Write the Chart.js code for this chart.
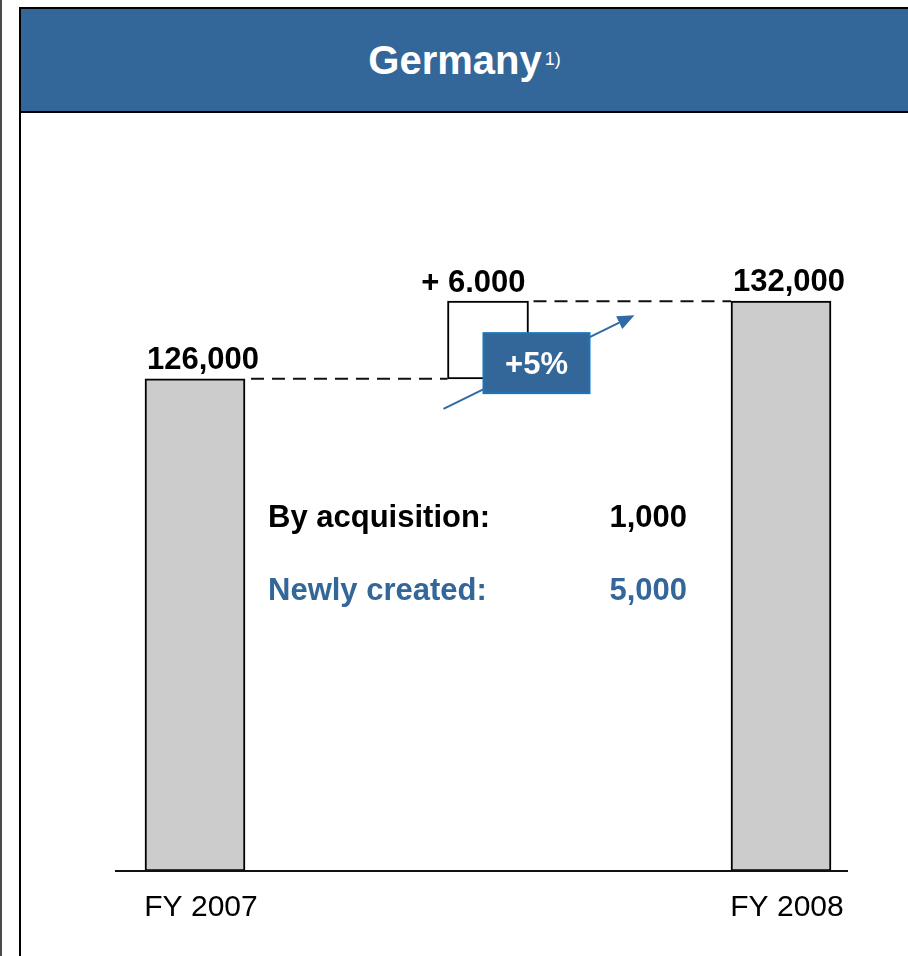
<!DOCTYPE html>
<html>
<head>
<meta charset="utf-8">
<title>Germany headcount FY 2007 – FY 2008</title>
<script src="https://cdn.jsdelivr.net/npm/chart.js@4/dist/chart.umd.min.js"></script>
<style>
  html, body { margin: 0; padding: 0; background: #fff; }
  body { position: relative; width: 908px; height: 956px; overflow: hidden;
         font-family: "Liberation Sans", Arial, sans-serif; }
  #edge { position: absolute; left: 0; top: 0; width: 2px; height: 956px; background: #4a4a4a; }
  #panel { position: absolute; left: 19px; top: 7px; width: 900px; height: 960px;
           border-left: 2px solid #000; border-top: 2px solid #000; }
  #head { position: absolute; left: 21px; top: 9px; width: 887px; height: 102px;
          background: #336699; border-bottom: 2px solid #000; color: #fff;
          text-align: center; line-height: 102px; font-weight: bold; font-size: 40px; }
  #head span { font-size: 18px; font-weight: normal; position: relative; top: -9px; margin-left: 3px; }
  #chart { position: absolute; left: 0; top: 0; }
</style>
</head>
<body>
<div id="edge"></div>
<div id="panel"></div>
<div id="head">Germany<span>1)</span></div>
<canvas id="chart" width="908" height="956"></canvas>
<script>
// Headcount in Germany, start and end of year, plus the change in between
const categories = ['FY 2007', '', 'FY 2008'];
const headcount = [126000, null, 132000];
const change = [null, [126000, 132000], null];
// Where the additional jobs came from
const breakdownLabels = ['By acquisition:', 'Newly created:'];
const breakdownValues = [1000, 5000];
const breakdownColors = ['#000000', '#336699'];

// value axis window (the axis itself is not drawn)
const axisFloor = 88000;
const axisCeil = 150000;

const FONT = '"Liberation Sans", Arial, sans-serif';
const BLUE = '#336699';

function group(v, sep) {
  return String(v).replace(/\B(?=(\d{3})+(?!\d))/g, sep);
}

const annotate = {
  id: 'annotate',
  afterDatasetsDraw(chart) {
    const ctx = chart.ctx;
    const area = chart.chartArea;
    const ys = chart.scales.y;
    const ground = ys.getPixelForValue(axisFloor);
    const bars = chart.getDatasetMeta(0).data;
    const step = chart.getDatasetMeta(1).data[1];
    const b0 = bars[0], b2 = bars[2];
    const L = el => el.x - el.width / 2;
    const R = el => el.x + el.width / 2;
    const lo = ys.getPixelForValue(change[1][0]);
    const hi = ys.getPixelForValue(change[1][1]);

    ctx.save();

    // ground line under the bars
    ctx.strokeStyle = '#111';
    ctx.lineWidth = 2;
    ctx.beginPath();
    ctx.moveTo(L(b0) - 30, ground);
    ctx.lineTo(R(b2) + 17, ground);
    ctx.stroke();

    // dashed connectors between the bars and the change box
    ctx.setLineDash([13, 8]);
    ctx.beginPath();
    ctx.moveTo(R(b0) + 6, lo);
    ctx.lineTo(L(step), lo);
    ctx.moveTo(R(step) + 5, hi);
    ctx.lineTo(L(b2), hi);
    ctx.stroke();
    ctx.setLineDash([]);

    // value labels
    ctx.fillStyle = '#000';
    ctx.font = 'bold 31px ' + FONT;
    ctx.textBaseline = 'alphabetic';
    ctx.textAlign = 'left';
    [0, 2].forEach(i => {
      const el = bars[i];
      ctx.fillText(group(headcount[i], ','), L(el) + 2, ys.getPixelForValue(headcount[i]) - 10);
    });
    const diff = change[1][1] - change[1][0];
    ctx.textAlign = 'right';
    ctx.fillText('+ ' + group(diff, '.'), R(step) - 3, hi - 9);

    // growth arrow
    const x1 = L(step) - 4, y1 = lo + 30;
    const x2 = R(step) + 106, y2 = hi + 14;
    const ang = Math.atan2(y2 - y1, x2 - x1);
    const head = 17, half = 7;
    const hx = x2 - head * Math.cos(ang), hy = y2 - head * Math.sin(ang);
    ctx.strokeStyle = '#2f6aa7';
    ctx.fillStyle = '#2f6aa7';
    ctx.lineWidth = 2;
    ctx.beginPath();
    ctx.moveTo(x1, y1);
    ctx.lineTo(hx, hy);
    ctx.stroke();
    ctx.beginPath();
    ctx.moveTo(x2, y2);
    ctx.lineTo(hx + half * Math.sin(ang), hy - half * Math.cos(ang));
    ctx.lineTo(hx - half * Math.sin(ang), hy + half * Math.cos(ang));
    ctx.closePath();
    ctx.fill();

    // growth badge
    const bw = 106, bh = 60;
    const bx = L(step) + 36, by = hi + 32;
    ctx.fillStyle = BLUE;
    ctx.fillRect(bx, by, bw, bh);
    ctx.strokeStyle = '#1b75bc';
    ctx.lineWidth = 2;
    ctx.strokeRect(bx, by, bw, bh);
    ctx.fillStyle = '#fff';
    ctx.font = 'bold 31px ' + FONT;
    ctx.textAlign = 'center';
    const pct = Math.round(diff / change[1][0] * 100);
    ctx.fillText('+' + pct + '%', bx + bw / 2, by + bh / 2 + 11);

    // breakdown of the change
    ctx.font = 'bold 31px ' + FONT;
    breakdownLabels.forEach((label, i) => {
      const base = area.top + 459 + i * 73;
      ctx.fillStyle = breakdownColors[i];
      ctx.textAlign = 'left';
      ctx.fillText(label, b0.x + 73, base);
      ctx.textAlign = 'right';
      ctx.fillText(group(breakdownValues[i], ','), b2.x - 94, base);
    });

    ctx.restore();
  }
};

new Chart(document.getElementById('chart'), {
  type: 'bar',
  data: {
    labels: categories,
    datasets: [
      {
        data: headcount,
        base: axisFloor,
        backgroundColor: '#cccccc',
        borderColor: '#000',
        borderWidth: 2,
        borderSkipped: false,
        barThickness: 100,
        clip: false
      },
      {
        data: change,
        backgroundColor: '#ffffff',
        borderColor: '#000',
        borderWidth: 2,
        borderSkipped: false,
        barThickness: 81,
        clip: false
      }
    ]
  },
  options: {
    responsive: false,
    animation: false,
    devicePixelRatio: 1,
    layout: { padding: { left: 195, right: 127, top: 68, bottom: 19 } },
    datasets: { bar: { grouped: false } },
    plugins: { legend: { display: false }, tooltip: { enabled: false } },
    scales: {
      x: {
        type: 'category',
        offset: false,
        grid: { display: false },
        border: { display: false },
        ticks: {
          color: '#000',
          font: { family: FONT, size: 30 },
          padding: 11,
          labelOffset: 6,
          maxRotation: 0,
          autoSkip: false
        }
      },
      y: {
        display: false,
        min: axisFloor,
        max: axisCeil
      }
    }
  },
  plugins: [annotate]
});
</script>
</body>
</html>
